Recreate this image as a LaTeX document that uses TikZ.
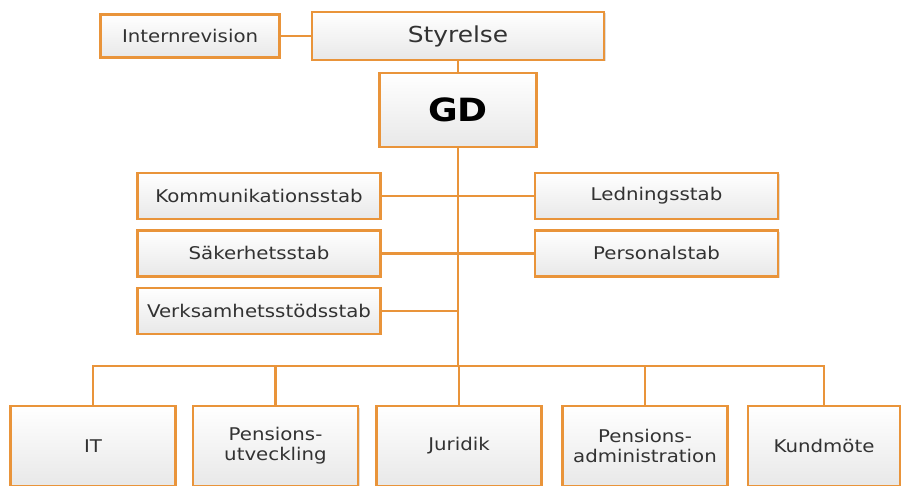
\documentclass[tikz,border=0pt]{standalone}
\usepackage{fontspec}
\setmainfont{DejaVu Sans}[FakeStretch=1.13]
\usetikzlibrary{positioning,shadows}
\definecolor{orgorange}{RGB}{233,148,58}
\definecolor{orgtext}{RGB}{50,50,50}
\tikzset{org box/.style={rectangle,draw=orgorange,line width=2.4pt,top color=white,bottom color=gray!18,
    text=orgtext,inner sep=0pt,align=center,font=\fontsize{17.5}{20}\selectfont,
    drop shadow={opacity=0.25,shadow xshift=1.5pt,shadow yshift=-1.5pt}},
  stab box/.style={org box,minimum width=243pt,minimum height=46pt},
  unit box/.style={org box,minimum width=165pt,minimum height=80pt},
  org line/.style={draw=orgorange,line width=2.4pt},
}

\begin{document}
\begin{tikzpicture}[x=1pt,y=-1pt]
				\useasboundingbox (0,0) rectangle (901,486);
				% ledning
				\node[org box,minimum width=292pt,minimum height=48pt,font=\fontsize{22}{24}\selectfont] (styr) at (458,36) {Styrelse};
				\node[org box,minimum width=179pt,minimum height=43pt] (intern) [left =30pt of styr] {Internrevision};
				\node[org box,minimum width=157pt,minimum height=74pt,font=\fontsize{32}{34}\selectfont\bfseries,text=black] (gd) at (458,110) {GD};
				
				% staber
				\node[stab box] (komm) at (259,196) {Kommunikationsstab};
				\node[stab box] (ledn) at (656.5,196) {Ledningsstab};
				\node[stab box] (saker) [below =9pt of komm] {Säkerhetsstab};
				\node[stab box] (pers) [below =9pt of ledn] {Personalstab};
				\node[stab box] (verks) [below =9pt of saker] {Verksamhetsstödsstab};
				
				% avdelningar
				\node[unit box] (it) at (93,446) {IT};
				\node[unit box] (putv) at (275.5,446) {Pensions-\\utveckling};
				\node[unit box] (jur) at (459,446) {Juridik};
				\node[unit box] (padm) at (645,446) {Pensions-\\administration};
				\node[unit box,minimum width=152pt] (kund) at (824,446) {Kundmöte};
				
				\coordinate (bus) at (458,366);
				
				\path[org line]
				(intern) edge (styr)
				(styr) edge (gd)
				(gd) edge (gd |- bus)
				(komm) edge (ledn)
				(saker) edge (pers)
				(verks) edge (verks -| gd)
				(putv.north) edge (putv |- bus)
				(jur.north) edge (jur |- bus)
				(padm.north) edge (padm |- bus);
				\draw[org line] (it.north) -- (it |- bus) -- (kund |- bus) -- (kund.north);
				
			\end{tikzpicture}
\end{document}
